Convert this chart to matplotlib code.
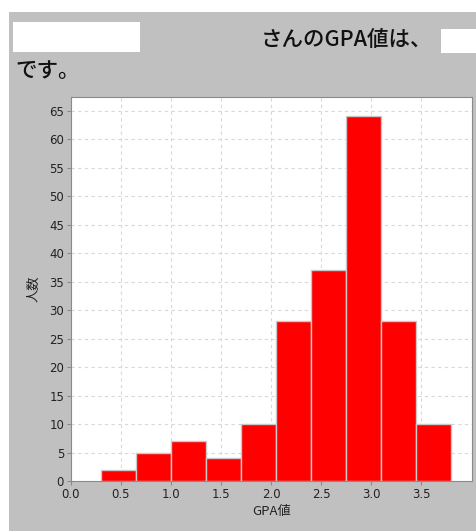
import matplotlib as mpl
mpl.use('Agg')
import matplotlib.pyplot as plt
from matplotlib.patches import Rectangle
import numpy as np

plt.rcParams['font.family'] = ['Noto Sans CJK JP', 'DejaVu Sans']

#histogram data
bin_edges = [0.3, 0.65, 1.0, 1.35, 1.7, 2.05, 2.4, 2.75, 3.1, 3.45, 3.8]
counts = [2, 5, 7, 4, 10, 28, 37, 64, 28, 10]
x_ticks = [0.0, 0.5, 1.0, 1.5, 2.0, 2.5, 3.0, 3.5]
y_ticks = list(range(0, 70, 5))

W, H = 477, 531
fig = plt.figure(figsize=(W/100, H/100), dpi=100)
fig.patch.set_facecolor('white')

#grey panel behind everything
fig.patches.append(Rectangle((9/W, 0), 1, (H-12)/H, transform=fig.transFigure,
                             facecolor='#c0c0c0', edgecolor='none', zorder=-2))
#white (blanked) boxes in the header
fig.patches.append(Rectangle((13/W, (H-52)/H), 127/W, 30/H, transform=fig.transFigure,
                             facecolor='white', edgecolor='none', zorder=-1))
fig.patches.append(Rectangle((441/W, (H-53)/H), 40/W, 24/H, transform=fig.transFigure,
                             facecolor='white', edgecolor='none', zorder=-1))

fig.text(432/W, (H-40)/H, 'さんのGPA値は、', ha='right', va='center',
         fontsize=15.5, fontweight='medium', color='#111111')
fig.text(15/W, (H-71)/H, 'です。', ha='left', va='center',
         fontsize=15.5, fontweight='medium', color='#111111')

ax = fig.add_axes([71/W, (H-481)/H, (472-71)/W, (481-97)/H])
ax.set_zorder(2)
ax.set_facecolor('white')
ax.bar(bin_edges[:-1], counts, width=np.diff(bin_edges), align='edge',
       color='#ff0000', edgecolor='#c8c8c8', linewidth=1, zorder=3)

ax.set_xlim(0, 4.01)
ax.set_ylim(0, 67.4)
ax.set_xticks(x_ticks)
ax.set_xticklabels(['%.1f' % v for v in x_ticks])
ax.set_yticks(y_ticks)
ax.grid(True, color='#d8d8d8', linestyle=(0, (3, 3)), linewidth=0.8, zorder=0)
ax.set_axisbelow(True)
for s in ax.spines.values():
    s.set_color('#8a8a8a')
ax.tick_params(direction='out', length=3, width=0.8, color='#8a8a8a',
               labelsize=8.5, labelcolor='#222222', pad=2)
for lab in ax.get_xticklabels() + ax.get_yticklabels():
    lab.set_family('DejaVu Sans')
ax.set_xlabel('GPA値', fontsize=9.5, color='#222222', labelpad=3)
ax.set_ylabel('人数', fontsize=9.5, color='#222222', labelpad=6)

fig.savefig('out.png', dpi=100)
